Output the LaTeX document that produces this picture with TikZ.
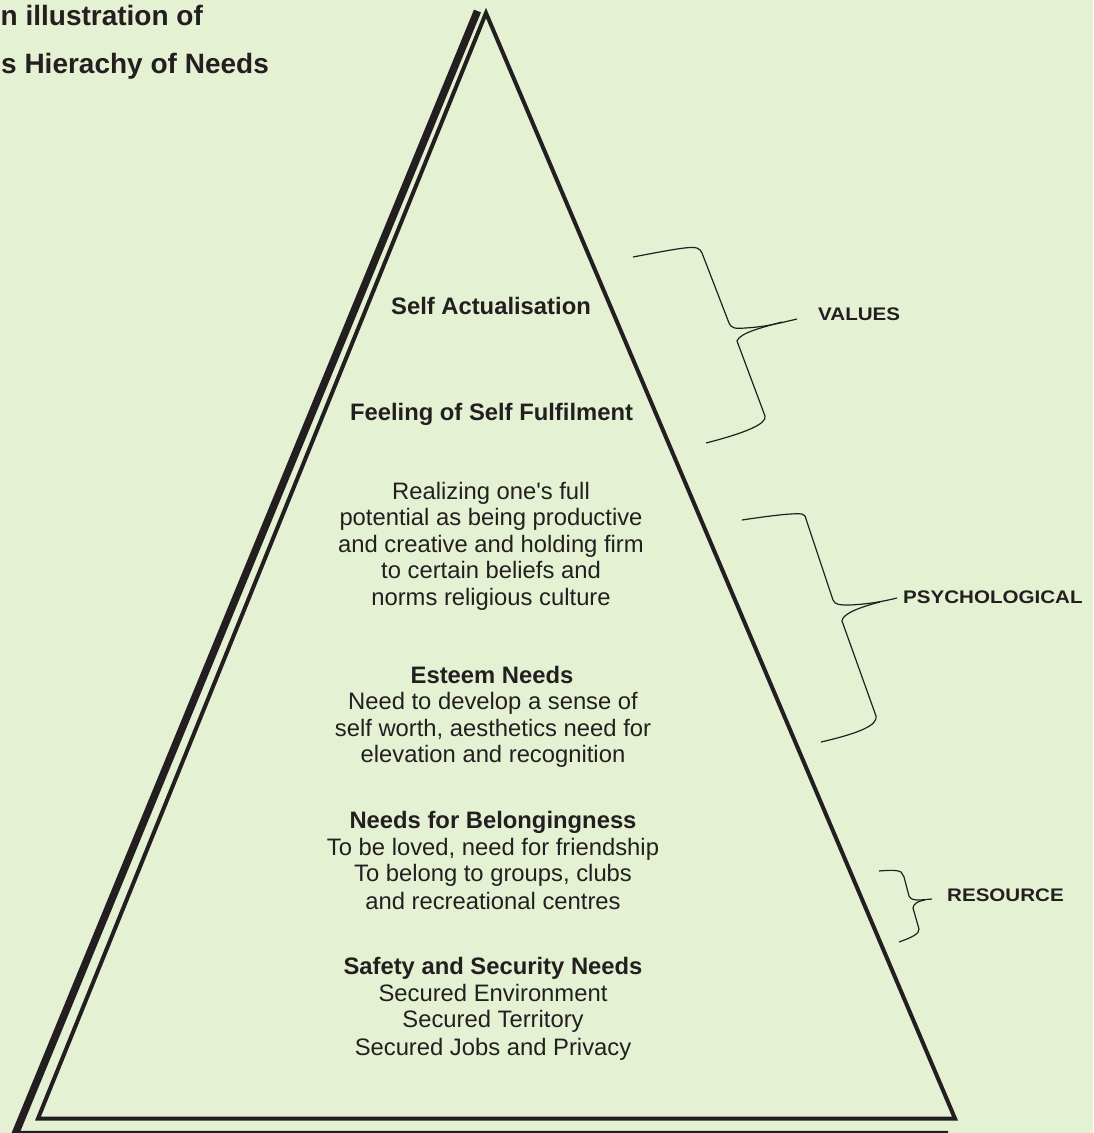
\documentclass[tikz,border=0pt]{standalone}
\usepackage{fontspec}
\setmainfont{Liberation Sans}
% same face without the TeX quote mapping, for a straight apostrophe
\newfontfamily\plainface{Liberation Sans}
\usepackage{graphicx}
\definecolor{bg}{RGB}{229,241,211}
\definecolor{ink}{RGB}{35,31,32}

\begin{document}
\begin{tikzpicture}[x=1pt,y=-1pt,
  titletext/.style={anchor=base west, inner sep=0pt, text=ink,
    font=\fontsize{28}{32}\selectfont\bfseries},
  headtext/.style={anchor=base, inner sep=0pt, text=ink,
    font=\fontsize{23.8}{27}\selectfont\bfseries},
  bodytext/.style={anchor=base, inner sep=0pt, text=ink,
    font=\fontsize{23.8}{27}\selectfont},
  sidetext/.style={anchor=base west, inner sep=0pt, text=ink,
    font=\fontsize{18.2}{21}\selectfont\bfseries},
  brc/.style={draw=ink, line width=1.2pt, line join=round},
  edge/.style={draw=ink, line width=4pt, line join=miter},
  thickedge/.style={draw=ink, line width=7.5pt, line join=miter, line cap=butt}
]
% background and page size
\fill[bg] (0,0) rectangle (1093,1133);
\useasboundingbox (0,0) rectangle (1093,1133);

% outer heavy frame on the left and along the base
\draw[thickedge] (477.5,11) -- (15,1134.5) -- (948,1134.5);
% the pyramid itself
\draw[edge] (486,13) -- (955,1118.5) -- (38,1118.5) -- cycle;

% heading
\node[titletext] (ttl1) at (0.5,25) {n illustration of};
\node[titletext] (ttl2) at (1,73) {s Hierachy of Needs};

% levels of the pyramid
\node[headtext] (sa) at (491,314) {Self Actualisation};
\node[headtext] (sf) at (491.5,420) {Feeling of Self Fulfilment};

\node[bodytext] (r1) at (491,499.3) {Realizing one{\plainface\symbol{39}}s full};
\node[bodytext] (r2) at (491,525.8) {potential as being productive};
\node[bodytext] (r3) at (491,552.2) {and creative and holding firm};
\node[bodytext] (r4) at (491,578.6) {to certain beliefs and};
\node[bodytext] (r5) at (491,605) {norms religious culture};

\node[headtext] (e0) at (492,683.3) {Esteem Needs};
\node[bodytext] (e1) at (493,709.8) {Need to develop a sense of};
\node[bodytext] (e2) at (493,736.3) {self worth, aesthetics need for};
\node[bodytext] (e3) at (493,762.7) {elevation and recognition};

\node[headtext] (b0) at (493,828.3) {Needs for Belongingness};
\node[bodytext] (b1) at (493,855) {To be loved, need for friendship};
\node[bodytext] (b2) at (493,881.7) {To belong to groups, clubs};
\node[bodytext] (b3) at (493,909.3) {and recreational centres};

\node[headtext] (s0) at (493,974) {Safety and Security Needs};
\node[bodytext] (s1) at (493,1001.7) {Secured Environment};
\node[bodytext] (s2) at (493,1027.9) {Secured Territory};
\node[bodytext] (s3) at (493,1055) {Secured Jobs and Privacy};

% braces on the right with their labels
\node[sidetext] (vl) at (818,320) {\scalebox{1.13}[1]{VALUES}};
\node[sidetext] (pl) at (903,603) {\scalebox{1.13}[1]{PSYCHOLOGICAL}};
\node[sidetext] (rl) at (947,901) {\scalebox{1.13}[1]{RESOURCE}};

\coordinate (vtip) at (797,319);
\coordinate (ptip) at (897,598);
\coordinate (rtip) at (932,899);

\draw[brc] (633,257) .. controls (670,250) and (690,246) .. (697,248)
  .. controls (700,249) and (701,251) .. (702,253) -- (729,323)
  .. controls (731,328) and (735,329) .. (745,328)
  .. controls (765,327) and (780,323) .. (vtip);
\draw[brc] (782,322) .. controls (760,328) and (740,333) .. (737,341)
  -- (765,416) .. controls (767,424) and (745,433) .. (706,443);

\draw[brc] (742,520) .. controls (775,515) and (795,513) .. (802,514)
  .. controls (805,515) and (806,517) .. (806,519) -- (833,600)
  .. controls (835,605) and (840,605) .. (850,605)
  .. controls (870,604) and (885,601) .. (ptip);
\draw[brc] (880,602) .. controls (860,607) and (842,614) .. (842,621)
  -- (876,716) .. controls (878,725) and (860,733) .. (821,742);

\draw[brc] (879,871) .. controls (890,870) and (898,870) .. (901,872)
  .. controls (903,874) .. (904,877) -- (909,896)
  .. controls (911,900) and (915,900) .. (920,900) -- (rtip);
\draw[brc] (925,900) .. controls (918,901) and (913,904) .. (913,908)
  -- (919,929) .. controls (920,934) and (910,938) .. (899,942);
\end{tikzpicture}
\end{document}
